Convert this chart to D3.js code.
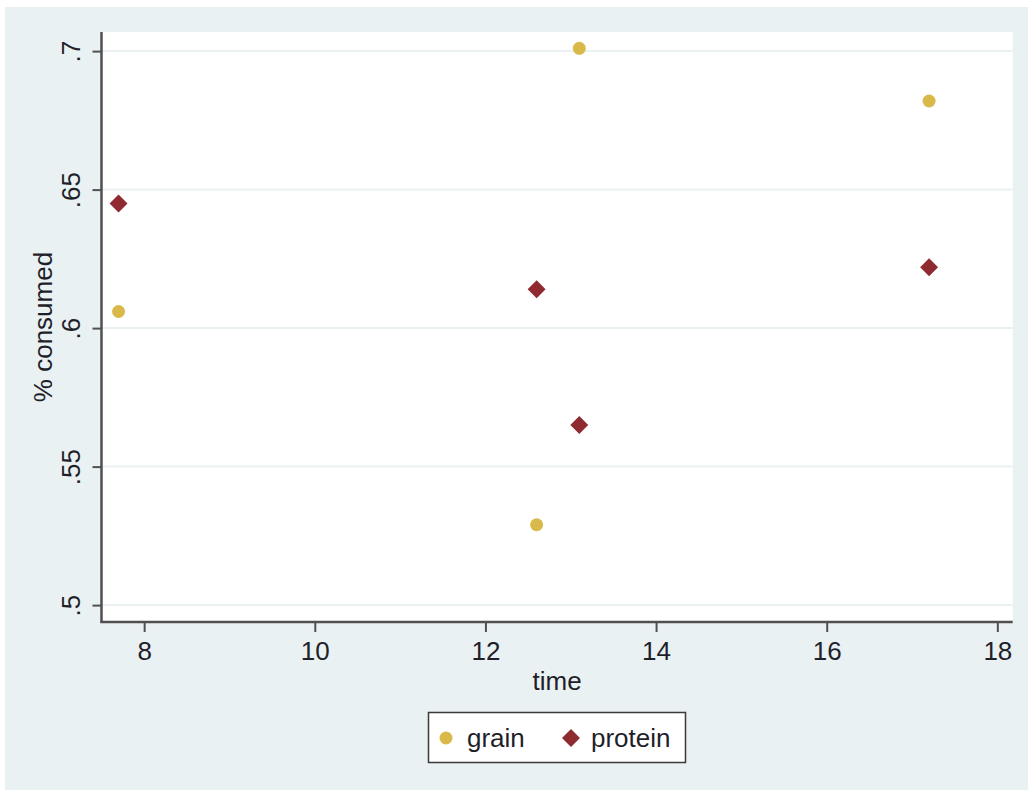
<!DOCTYPE html>
<html>
<head>
<meta charset="utf-8">
<script src="https://cdn.jsdelivr.net/npm/d3@7"></script>
<style>
  html, body { margin: 0; padding: 0; background: #ffffff; }
  svg { display: block; font-family: "Liberation Sans", Arial, sans-serif; }
</style>
</head>
<body>
<svg id="chart" width="1030" height="794"></svg>
<script>
// ---- data ----
const times = [7.7, 12.6, 13.1, 17.2];
const grain = [0.606, 0.529, 0.701, 0.682];
const protein = [0.645, 0.614, 0.565, 0.622];
const xTicks = [8, 10, 12, 14, 16, 18];
const yTicks = [0.5, 0.55, 0.6, 0.65, 0.7];
const yTickLabels = [".5", ".55", ".6", ".65", ".7"];
const seriesNames = ["grain", "protein"];

// ---- layout ----
const W = 1030, H = 794;
const plot = { left: 101.5, right: 1012.7, top: 32, bottom: 622 };
const colors = { grain: "#d9b94a", protein: "#8e2a30" };
const textColor = "#1f1f2a";
const axisColor = "#505050";
const fontSize = 26;

const svg = d3.select("#chart");

// outer background
svg.append("rect").attr("x", 5).attr("y", 7).attr("width", 1023).attr("height", 783)
  .attr("fill", "#e9f1f3");

// plot area
svg.append("rect").attr("x", plot.left).attr("y", plot.top)
  .attr("width", plot.right - plot.left).attr("height", plot.bottom - plot.top)
  .attr("fill", "#ffffff");

const x = d3.scaleLinear().domain([7.5, 18.18]).range([plot.left, plot.right]);
const y = d3.scaleLinear().domain([0.4939, 0.7069]).range([plot.bottom, plot.top]);

// gridlines
svg.append("g").selectAll("line").data(yTicks).join("line")
  .attr("x1", plot.left).attr("x2", plot.right)
  .attr("y1", d => y(d)).attr("y2", d => y(d))
  .attr("stroke", "#eaf1f3").attr("stroke-width", 2);

// y axis
const yAxis = d3.axisLeft(y).tickValues(yTicks).tickSize(9).tickPadding(14)
  .tickFormat((d, i) => yTickLabels[i]);
const gy = svg.append("g").attr("transform", `translate(${plot.left},0)`).call(yAxis);
gy.select(".domain").remove();
gy.selectAll(".tick line").attr("stroke", axisColor).attr("stroke-width", 2);
gy.selectAll(".tick text")
  .attr("x", null).attr("dy", null)
  .attr("transform", "translate(-22,0) rotate(-90)")
  .attr("text-anchor", "middle")
  .attr("fill", textColor)
  .style("font-size", fontSize + "px");
svg.append("line").attr("x1", plot.left).attr("x2", plot.left)
  .attr("y1", plot.top).attr("y2", plot.bottom + 1)
  .attr("stroke", axisColor).attr("stroke-width", 2.5);

// x axis
const xAxis = d3.axisBottom(x).tickValues(xTicks).tickSize(10).tickPadding(10)
  .tickFormat(d3.format("d"));
const gx = svg.append("g").attr("transform", `translate(0,${plot.bottom})`).call(xAxis);
gx.select(".domain").remove();
gx.selectAll(".tick line").attr("stroke", axisColor).attr("stroke-width", 2);
gx.selectAll(".tick text").attr("fill", textColor).style("font-size", fontSize + "px");
svg.append("line").attr("x1", plot.left - 1).attr("x2", plot.right)
  .attr("y1", plot.bottom).attr("y2", plot.bottom)
  .attr("stroke", axisColor).attr("stroke-width", 2.5);

// axis titles
svg.append("text").attr("x", (plot.left + plot.right) / 2).attr("y", 690)
  .attr("text-anchor", "middle").attr("fill", textColor)
  .style("font-size", fontSize + "px").text("time");
svg.append("text")
  .attr("transform", `translate(52,${(plot.top + plot.bottom) / 2}) rotate(-90)`)
  .attr("text-anchor", "middle").attr("fill", textColor)
  .style("font-size", fontSize + "px").text("% consumed");

// markers
const diamond = d3.symbol().type(d3.symbolDiamond2).size(205);
svg.append("g").selectAll("circle").data(times).join("circle")
  .attr("cx", d => x(d)).attr("cy", (d, i) => y(grain[i])).attr("r", 6.5)
  .attr("fill", colors.grain);
svg.append("g").selectAll("path").data(times).join("path")
  .attr("transform", (d, i) => `translate(${x(d)},${y(protein[i])})`)
  .attr("d", diamond).attr("fill", colors.protein);

// legend
const lg = svg.append("g");
lg.append("rect").attr("x", 428.5).attr("y", 712.5).attr("width", 257).attr("height", 50)
  .attr("fill", "#ffffff").attr("stroke", "#3a3a3a").attr("stroke-width", 1.5);
lg.append("circle").attr("cx", 446).attr("cy", 738).attr("r", 6.5).attr("fill", colors.grain);
lg.append("text").attr("x", 467).attr("y", 747).attr("fill", textColor)
  .style("font-size", fontSize + "px").text(seriesNames[0]);
lg.append("path").attr("transform", "translate(571,738)").attr("d", diamond)
  .attr("fill", colors.protein);
lg.append("text").attr("x", 591).attr("y", 747).attr("fill", textColor)
  .style("font-size", fontSize + "px").text(seriesNames[1]);
</script>
</body>
</html>
